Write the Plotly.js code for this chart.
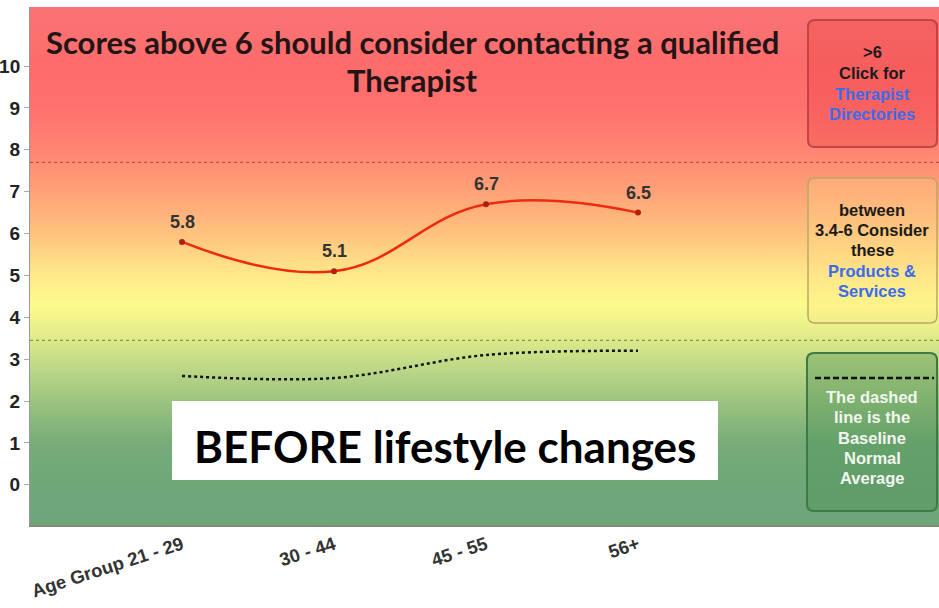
<!DOCTYPE html>
<html><head><meta charset="utf-8">
<script src="https://cdn.plot.ly/plotly-3.0.1.min.js"></script>
<style>html,body{margin:0;padding:0;background:#fff}#chart{width:939px;height:608px}</style>
</head><body><div id="chart"></div>
<script>
// ---- data ----
var categories = ["Age Group 21 - 29", "30 - 44", "45 - 55", "56+"];
var scores = [5.8, 5.1, 6.7, 6.5];
var baseline = [2.6, 2.55, 3.1, 3.2];
var yTicks = [0,1,2,3,4,5,6,7,8,9,10];
var upperThreshold = 7.7;
var lowerThreshold = 3.45;
var titleLines = ["Scores above 6 should consider contacting a qualified", "Therapist"];
var bannerText = "BEFORE lifestyle changes";
var box1Lines = [[">6","#1a1a1a"],["Click for","#1a1a1a"],["Therapist","#3a6cf0"],["Directories","#3a6cf0"]];
var box2Lines = [["between","#1a1a1a"],["3.4-6 Consider","#1a1a1a"],["these","#1a1a1a"],["Products &amp;","#3a6cf0"],["Services","#3a6cf0"]];
var box3Lines = ["The dashed","line is the","Baseline","Normal","Average"];

// ---- layout geometry (pixel helpers) ----
var X0 = -1.0, X1 = 4.98, Y0 = -0.96, Y1 = 11.41;
var PL = 30, PR = 939, PT = 7, PB = 525;
function px2x(p){ return X0 + (p-PL)/(PR-PL)*(X1-X0); }
function py2y(p){ return Y1 - (p-PT)/(PB-PT)*(Y1-Y0); }
var xIdx = categories.map(function(_,i){return i;});

function roundRect(x0p,y0p,x1p,y1p,r){
  var a=px2x(x0p), b=px2x(x1p), c=py2y(y1p), d=py2y(y0p);
  var rx=px2x(x0p+r)-a, ry=py2y(y0p)-py2y(y0p+r);
  return 'M'+(a+rx)+','+d+' L'+(b-rx)+','+d+' Q'+b+','+d+' '+b+','+(d-ry)+
    ' L'+b+','+(c+ry)+' Q'+b+','+c+' '+(b-rx)+','+c+' L'+(a+rx)+','+c+
    ' Q'+a+','+c+' '+a+','+(c+ry)+' L'+a+','+(d-ry)+' Q'+a+','+d+' '+(a+rx)+','+d+' Z';
}

var bg = {
  x:[X0,X1,X1,X0,X0], y:[Y0,Y0,Y1,Y1,Y0], mode:'lines', fill:'toself',
  line:{width:0}, hoverinfo:'skip', showlegend:false,
  fillgradient:{type:'vertical', start:Y0, stop:Y1, colorscale:[
    [0,'#6ea67a'],[0.078,'#6fa77a'],[0.158,'#76ac79'],[0.239,'#9cc480'],
    [0.32,'#c6dd88'],[0.36,'#dfea8a'],[0.425,'#fdfb8c'],[0.482,'#ffe98a'],
    [0.563,'#ffc27e'],[0.643,'#ffa278'],[0.724,'#ff8572'],[0.805,'#ff716e'],
    [0.886,'#fd6b6b'],[1,'#f97474']]}
};

var thrUp = {x:[X0,X1], y:[upperThreshold,upperThreshold], mode:'lines',
  line:{color:'#c04a4a', width:1.2, dash:'dot'}, hoverinfo:'skip', showlegend:false};
var thrLo = {x:[X0,X1], y:[lowerThreshold,lowerThreshold], mode:'lines',
  line:{color:'#8a9a3a', width:1.2, dash:'dot'}, hoverinfo:'skip', showlegend:false};

var scoreTrace = {x:xIdx, y:scores, mode:'lines+markers', line:{color:'#ee2a10', width:2.5, shape:'spline', smoothing:1.2},
  marker:{color:'#b0200c', size:6}, hoverinfo:'skip', showlegend:false};
var baseTrace = {x:xIdx, y:baseline, mode:'lines', line:{color:'#111', width:2.5, dash:'dot', shape:'spline', smoothing:1.0},
  hoverinfo:'skip', showlegend:false};

var annotations = [];
var boldFont = 'Liberation Sans, Arial, sans-serif';
scores.forEach(function(v,i){
  annotations.push({x:i, y:v, text:'<b>'+v.toFixed(1)+'</b>', showarrow:false, yshift:20,
    font:{family:boldFont, size:18, color:'#333'}});
});
var titleY = [42, 80];
titleLines.forEach(function(t,i){
  annotations.push({x:px2x(412), y:py2y(titleY[i]), text:'<b>'+t+'</b>', showarrow:false,
    font:{family:'Lato, sans-serif', size:31, color:'#231515'}});
});
annotations.push({x:px2x(445), y:py2y(446), text:'<b>'+bannerText+'</b>', showarrow:false,
  font:{family:'Lato, sans-serif', size:44, color:'#000'}});
var b1y=[52,73,94,114], b2y=[210,230,250,271,291], b3y=[397,417,438,458,478];
box1Lines.forEach(function(l,i){ annotations.push({x:px2x(872), y:py2y(b1y[i]), text:'<b>'+l[0]+'</b>', showarrow:false, font:{family:boldFont,size:16.5,color:l[1]}}); });
box2Lines.forEach(function(l,i){ annotations.push({x:px2x(872), y:py2y(b2y[i]), text:'<b>'+l[0]+'</b>', showarrow:false, font:{family:boldFont,size:16.5,color:l[1]}}); });
box3Lines.forEach(function(t,i){ annotations.push({x:px2x(872), y:py2y(b3y[i]), text:'<b>'+t+'</b>', showarrow:false, font:{family:boldFont,size:16.5,color:'#f2f6ee'}}); });

var shapes = [
  {type:'rect', xref:'x', yref:'y', x0:px2x(172), x1:px2x(718), y0:py2y(480), y1:py2y(401), fillcolor:'#ffffff', line:{width:0}},
  {type:'path', path:roundRect(808,20,937,147,7), fillcolor:'rgba(235,70,70,0.35)', line:{color:'#c24444', width:2}},
  {type:'path', path:roundRect(808,178,937,323,7), fillcolor:'rgba(255,225,130,0.25)', line:{color:'#b9a866', width:1.5}},
  {type:'path', path:roundRect(807,353,937,511,7), fillcolor:'rgba(70,140,80,0.35)', line:{color:'#3d7a46', width:2}},
  {type:'line', x0:px2x(815), x1:px2x(934), y0:py2y(378), y1:py2y(378), line:{color:'#111', width:2.5, dash:'6px,3px'}}
];

var layout = {
  width:939, height:608, margin:{l:PL, r:939-PR, t:PT, b:608-PB},
  paper_bgcolor:'#fff', plot_bgcolor:'#fff', showlegend:false,
  xaxis:{range:[X0,X1], tickvals:xIdx, ticktext:categories.map(function(c){return '<b>'+c+'</b>';}), tickangle:-18,
    showgrid:false, zeroline:false, showline:true, linecolor:'#7d8c7d', linewidth:2, ticks:'',
    tickfont:{family:boldFont, size:18.5, color:'#333'}},
  yaxis:{range:[Y0,Y1], tickvals:yTicks, ticktext:yTicks.map(function(v){return '<b>'+v+'</b>';}),
    showgrid:false, zeroline:false, showline:true, linecolor:'#999', linewidth:1,
    ticks:'outside', ticklen:5, tickcolor:'#aaa', tickfont:{family:boldFont, size:19, color:'#222'}},
  shapes:shapes, annotations:annotations
};

Plotly.newPlot('chart', [bg, thrUp, thrLo, baseTrace, scoreTrace], layout, {staticPlot:true, displayModeBar:false});
</script></body></html>
